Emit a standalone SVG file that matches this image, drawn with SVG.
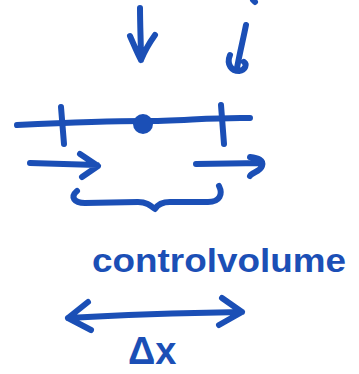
<svg xmlns="http://www.w3.org/2000/svg" width="359" height="374" viewBox="0 0 359 374">
<style>
.s{fill:none;stroke:#1b4fb6;stroke-width:6;stroke-linecap:round;stroke-linejoin:round}
.t{fill:#1b4fb6;font-family:"Liberation Sans",sans-serif;font-weight:bold}
</style>
<rect width="359" height="374" fill="#fff"/>
<g id="connectors">
<path class="s" d="M140,8 C140,25 141,45 141,60 M130,36 C134,45 138,55 141,60 C145,50 150,42 155,35"/>
<path class="s" d="M246,25 C243,40 240,52 237,68 M230,55 C226,65 232,71 239,71 C246,70 247,64 244,62"/>
<path class="s" d="M253,0 L255,2"/>
<path class="s" d="M30,163 L97,165 M80,154 L98,166 L82,177"/>
<path class="s" d="M196,164 L262,163 M250,157 C258,158 264,160 262,166 C260,172 252,172 250,176"/>
<path class="s" d="M68,318 C120,315 180,313 242,312 M88,302 L68,318 L91,330 M222,298 L242,312 L219,325"/>
</g>
<g id="grid">
<path class="s" d="M17,125 C60,123 110,121 143,121 C180,121 215,117 250,118"/>
<path class="s" d="M61,107 L64,144"/>
<path class="s" d="M221,105 L224,144"/>
<circle cx="143" cy="124" r="10" fill="#1b4fb6"/>
</g>
<g id="brace">
<path class="s" d="M77,191 C70,197 74,203 85,203 L138,202 C146,202 150,205 155,209 C158,204 162,202 170,202 L208,202 C220,202 223,194 219,186"/>
</g>
<g id="label-cv">
<text class="t" x="92" y="272" font-size="34" textLength="254" lengthAdjust="spacingAndGlyphs">controlvolume</text>
</g>
<g id="label-dx">
<text class="t" x="128" y="364" font-size="38">Δx</text>
</g>
</svg>
